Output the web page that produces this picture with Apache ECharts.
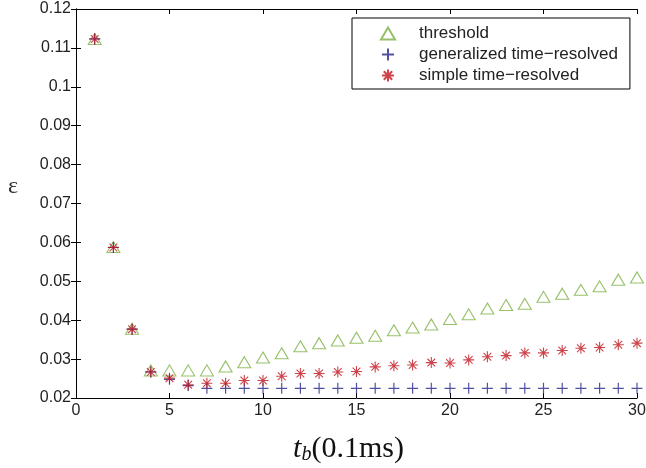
<!DOCTYPE html>
<html><head><meta charset="utf-8">
<script src="https://cdn.jsdelivr.net/npm/echarts@6/dist/echarts.min.js"></script>
<style>html,body{margin:0;padding:0;background:#fff}#c{width:646px;height:468px}</style>
</head><body><div id="c"></div>
<script>
const tb = [1,2,3,4,5,6,7,8,9,10,11,12,13,14,15,16,17,18,19,20,21,22,23,24,25,26,27,28,29,30];
const threshold = [0.1123,0.0588,0.0378,0.0271,0.0271,0.0271,0.0271,0.0281,0.0292,0.0304,0.0315,0.0333,0.0341,0.0348,0.0355,0.0360,0.0374,0.0381,0.0389,0.0403,0.0415,0.0430,0.0439,0.0442,0.0460,0.0468,0.0478,0.0487,0.0504,0.0510];
const generalized = [0.1123,0.0587,0.0377,0.0267,0.0248,0.0232,0.0225,0.0225,0.0225,0.0225,0.0225,0.0225,0.0225,0.0225,0.0225,0.0225,0.0225,0.0225,0.0225,0.0225,0.0225,0.0225,0.0225,0.0225,0.0225,0.0225,0.0225,0.0225,0.0225,0.0225];
const simple = [0.1123,0.0587,0.0377,0.0267,0.0251,0.0234,0.0238,0.0238,0.0245,0.0245,0.0256,0.0263,0.0263,0.0267,0.0268,0.0280,0.0283,0.0285,0.0291,0.0290,0.0298,0.0306,0.0309,0.0316,0.0316,0.0322,0.0328,0.0330,0.0337,0.0341];
const xTicks = [0,5,10,15,20,25,30];
const yTicks = [0.02,0.03,0.04,0.05,0.06,0.07,0.08,0.09,0.1,0.11,0.12];

const pair = (arr) => tb.map((x,i)=>[x,arr[i]]);
const plusPath = 'path://M0,5L10,5M5,0L5,10';
const starPath = 'path://M0,5L10,5M5,0L5,10M1.5,1.5L8.5,8.5M1.5,8.5L8.5,1.5';
const lab = {color:'#222', fontSize:16, fontFamily:'Liberation Sans, Arial, sans-serif'};
const serif = 'Liberation Serif, DejaVu Serif, serif';
const chart = echarts.init(document.getElementById('c'), null, {renderer:'canvas'});
chart.setOption({
  animation:false,
  grid:{left:76, right:9, top:9, bottom:70, containLabel:false, outerBoundsMode:'none'},
  legend:{
    orient:'vertical', left:352, top:18, width:277,
    backgroundColor:'#fff', borderColor:'#000', borderWidth:1,
    padding:[7,12,5,28], itemGap:4, itemWidth:14, itemHeight:12,
    textStyle:{fontSize:17, color:'#222', fontFamily:'Liberation Sans, Arial, sans-serif', padding:[0,0,0,19]},
    data:['threshold','generalized time\u2212resolved','simple time\u2212resolved']
  },
  xAxis:[{
    type:'value', min:0, max:30, interval:5,
    axisLine:{lineStyle:{color:'#000'}}, axisTick:{inside:true, length:5, lineStyle:{color:'#000'}},
    splitLine:{show:false},
    axisLabel:Object.assign({margin:5, formatter:v=>xTicks.includes(v)?String(v):''}, lab),
    name:'{t|t}{b|b}{n|(0.1ms)}', nameLocation:'middle', nameGap:35,
    nameTextStyle:{padding:[0,16,0,0], rich:{
      t:{fontFamily:serif, fontStyle:'italic', fontSize:30, color:'#111'},
      b:{fontFamily:serif, fontStyle:'italic', fontSize:20, color:'#111', verticalAlign:'bottom', padding:[12,0,0,0]},
      n:{fontFamily:serif, fontSize:30, color:'#111'}
    }}
  },{
    type:'value', min:0, max:30, interval:5, position:'top',
    axisLine:{lineStyle:{color:'#000'}}, axisTick:{inside:true, length:5, lineStyle:{color:'#000'}},
    axisLabel:{show:false}, splitLine:{show:false}
  }],
  yAxis:[{
    type:'value', min:0.02, max:0.12, interval:0.01,
    axisLine:{show:true, lineStyle:{color:'#000'}}, axisTick:{show:true, inside:true, length:5, lineStyle:{color:'#000'}},
    splitLine:{show:false},
    axisLabel:Object.assign({margin:5, formatter:v=>{const r=Math.round(v*100)/100; return yTicks.some(t=>Math.abs(t-r)<1e-9)?String(r):'';}}, lab),
    name:'\u03b5\n\u00a0', nameLocation:'middle', nameGap:58, nameRotate:0,
    nameTextStyle:{fontFamily:serif, fontSize:24, color:'#333', lineHeight:34}
  },{
    type:'value', min:0.02, max:0.12, interval:0.01, position:'right',
    axisLine:{show:true, lineStyle:{color:'#000'}}, axisTick:{show:true, inside:true, length:5, lineStyle:{color:'#000'}},
    axisLabel:{show:false}, splitLine:{show:false}
  }],
  series:[
    {name:'threshold', type:'scatter', data:pair(threshold), symbol:'triangle', symbolSize:[13,11],
      itemStyle:{color:'rgba(0,0,0,0)', borderColor:'#7db043', borderWidth:1.1}},
    {name:'generalized time\u2212resolved', type:'scatter', data:pair(generalized), symbol:plusPath, symbolSize:11,
      itemStyle:{color:'rgba(0,0,0,0)', borderColor:'#25258a', borderWidth:1.2}},
    {name:'simple time\u2212resolved', type:'scatter', data:pair(simple), symbol:starPath, symbolSize:11,
      itemStyle:{color:'rgba(0,0,0,0)', borderColor:'#c0141e', borderWidth:1.1}}
  ]
});
</script></body></html>
